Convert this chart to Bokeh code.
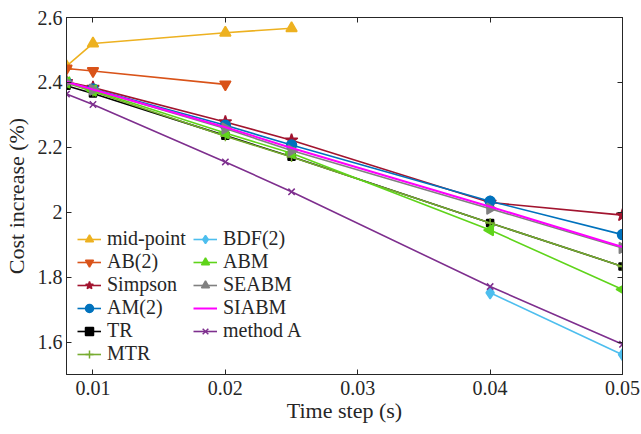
import math
from bokeh.plotting import figure
from bokeh.models import LinearAxis, Range1d, FixedTicker, Legend, LegendItem
from bokeh.embed import file_html
from bokeh.resources import INLINE

# ---- data ----
x_full = [0.008, 0.01, 0.02, 0.025, 0.04, 0.05]
x_mid = [0.008, 0.01, 0.02, 0.025]
x_ab2 = [0.008, 0.01, 0.02]
x_bdf = [0.04, 0.05]

midpoint = [2.450, 2.520, 2.553, 2.567]
ab2 = [2.443, 2.435, 2.394]
simpson = [2.402, 2.384, 2.278, 2.222, 2.030, 1.991]
am2 = [2.400, 2.380, 2.268, 2.207, 2.034, 1.931]
tr = [2.390, 2.366, 2.236, 2.171, 1.967, 1.833]
mtr = [2.398, 2.372, 2.234, 2.170, 1.967, 1.833]
bdf2 = [1.752, 1.561]
abm = [2.400, 2.375, 2.244, 2.182, 1.945, 1.762]
seabm = [2.400, 2.378, 2.258, 2.190, 2.011, 1.890]
siabm = [2.402, 2.378, 2.262, 2.198, 2.017, 1.893]
method_a = [2.364, 2.332, 2.155, 2.063, 1.771, 1.593]

xticks = [0.01, 0.02, 0.03, 0.04, 0.05]
xtick_labels = ["0.01", "0.02", "0.03", "0.04", "0.05"]
yticks = [1.6, 1.8, 2, 2.2, 2.4, 2.6]
ytick_labels = ["1.6", "1.8", "2", "2.2", "2.4", "2.6"]

FONT = "Liberation Serif"
AX = "#262626"

p = figure(frame_width=556, frame_height=357,
           x_range=Range1d(0.008, 0.05), y_range=Range1d(1.5, 2.6),
           output_backend="svg", toolbar_location=None,
           min_border_left=58, min_border_top=17, min_border_right=18,
           min_border_bottom=50, background_fill_color="white")
p.grid.visible = False
p.outline_line_color = AX
p.outline_line_width = 1

for ax in (p.xaxis[0], p.yaxis[0]):
    ax.major_tick_in = 5
    ax.major_tick_out = 0
    ax.minor_tick_in = 0
    ax.minor_tick_out = 0
    ax.axis_line_color = AX
    ax.major_tick_line_color = AX
    ax.major_label_text_font = FONT
    ax.major_label_text_font_size = "20px"
    ax.major_label_text_color = AX
    ax.axis_label_text_font = FONT
    ax.axis_label_text_font_size = "22px"
    ax.axis_label_text_font_style = "normal"
    ax.axis_label_text_color = AX

p.xaxis[0].ticker = FixedTicker(ticks=xticks)
p.xaxis[0].major_label_overrides = dict(zip(xticks, xtick_labels))
p.yaxis[0].ticker = FixedTicker(ticks=yticks)
p.yaxis[0].major_label_overrides = dict(zip(yticks, ytick_labels))
p.xaxis[0].axis_label = "Time step (s)"
p.yaxis[0].axis_label = "Cost increase (%)"
p.xaxis[0].major_label_standoff = 6
p.yaxis[0].major_label_standoff = 4
p.xaxis[0].axis_label_standoff = 0
p.yaxis[0].axis_label_standoff = 6

for loc, tk in (("above", xticks), ("right", yticks)):
    a = LinearAxis(ticker=FixedTicker(ticks=tk), major_tick_in=5, major_tick_out=0,
                   minor_tick_in=0, minor_tick_out=0, axis_line_color=AX,
                   major_tick_line_color=AX, major_label_text_color=None,
                   major_label_text_font_size="1px", major_label_standoff=0)
    p.add_layout(a, loc)

series = [
    ("mid-point", x_mid, midpoint, "#EDB120", "triangle", 0.0, 11),
    ("AB(2)", x_ab2, ab2, "#D95319", "inverted_triangle", 0.0, 11),
    ("Simpson", x_full, simpson, "#A2142F", "star", 0.0, 13),
    ("AM(2)", x_full, am2, "#0072BD", "circle", 0.0, 10),
    ("TR", x_full, tr, "#000000", "square", 0.0, 7),
    ("MTR", x_full, mtr, "#77AC30", "cross", 0.0, 10),
    ("BDF(2)", x_bdf, bdf2, "#4DBEEE", "diamond", 0.0, 12),
    ("ABM", x_full, abm, "#5FD41A", "triangle", math.pi / 2, 11),
    ("SEABM", x_full, seabm, "#808080", "triangle", -math.pi / 2, 11),
    ("SIABM", x_full, siabm, "#FF00FF", None, 0.0, 0),
    ("method A", x_full, method_a, "#7E2F8E", "x", 0.0, 9),
]

items = []
for name, xs, ys, col, mk, ang, sz in series:
    lw = 2 if name == "SIABM" else 1.6
    r1 = p.line(xs, ys, line_color=col, line_width=lw)
    rs = [r1]
    if mk is not None:
        r2 = p.scatter(xs, ys, marker=mk, size=sz, angle=ang, fill_color=col,
                       line_color=col, line_width=1.5)
        rs.append(r2)
    items.append(LegendItem(label=name, renderers=rs))

leg = Legend(items=items, location=(11, 9), orientation="vertical", nrows=6,
             background_fill_alpha=0, border_line_alpha=0, padding=0, margin=0,
             spacing=0, glyph_width=24, glyph_height=20, label_height=20,
             label_width=86, label_standoff=6, label_text_font=FONT,
             label_text_font_size="20px", label_text_color=AX)
p.add_layout(leg, "center")

open("out.html", "w").write(file_html(p, INLINE))
